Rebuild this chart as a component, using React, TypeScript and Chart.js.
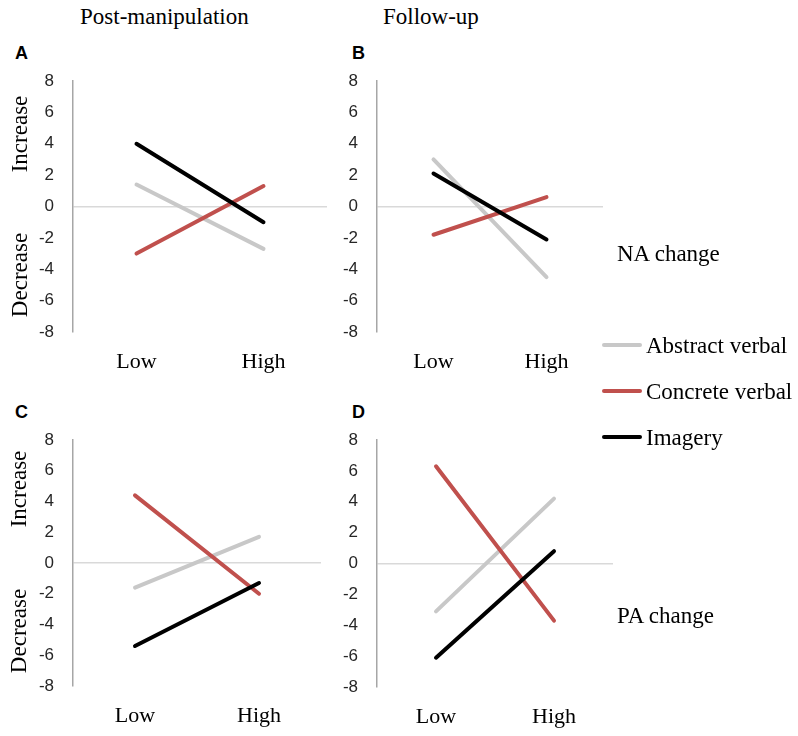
import { useEffect, useRef } from "react";
import { Chart, registerables } from "chart.js";
import type { ChartConfiguration } from "chart.js";

Chart.register(...registerables);

const CATEGORIES = ["Low", "High"];
const SERIES = ["Abstract verbal", "Concrete verbal", "Imagery"];
const Y_MIN = -8;
const Y_MAX = 8;
const Y_STEP = 2;

// A: NA change, post-manipulation
const naPostAbstract = [1.4, -2.7];
const naPostConcrete = [-3.0, 1.3];
const naPostImagery = [4.0, -1.0];
// B: NA change, follow-up
const naFollowAbstract = [3.0, -4.5];
const naFollowConcrete = [-1.8, 0.6];
const naFollowImagery = [2.1, -2.1];
// C: PA change, post-manipulation
const paPostAbstract = [-1.6, 1.7];
const paPostConcrete = [4.4, -2.0];
const paPostImagery = [-5.4, -1.3];
// D: PA change, follow-up
const paFollowAbstract = [-3.1, 4.2];
const paFollowConcrete = [6.3, -3.7];
const paFollowImagery = [-6.1, 0.8];

const COLORS = ["#c8c8c8", "#c0504d", "#000000"];
const SERIF = "'Liberation Serif', 'Times New Roman', serif";
const SANS = "'Liberation Sans', Arial, sans-serif";

type Box = { left: number; areaLeft: number; areaRight: number; areaTop: number; areaBottom: number };

const PAD_TOP = 41;
const X_AXIS_H = 52;
const PAD_BOTTOM = 6;
const PAD_RIGHT = 14;

function Panel({ series, box }: { series: number[][]; box: Box }) {
  const canvasRef = useRef<HTMLCanvasElement | null>(null);

  useEffect(() => {
    const ctx = canvasRef.current!.getContext("2d")!;
    const config: ChartConfiguration<"line", number[], string> = {
      type: "line",
      data: {
        labels: CATEGORIES,
        datasets: series.map((d, i) => ({
          label: SERIES[i],
          data: d,
          borderColor: COLORS[i],
          backgroundColor: COLORS[i],
          borderWidth: 4,
          borderCapStyle: "round",
          pointRadius: 0,
          tension: 0,
          order: 3 - i, // imagery on top
        })),
      },
      options: {
        responsive: true,
        maintainAspectRatio: false,
        animation: false,
        layout: { padding: { top: PAD_TOP, right: PAD_RIGHT, bottom: PAD_BOTTOM, left: 0 } },
        plugins: { legend: { display: false }, tooltip: { enabled: false } },
        scales: {
          x: {
            type: "category",
            offset: true,
            grid: { display: false, drawTicks: false },
            border: { display: false },
            ticks: { color: "#000", font: { family: SERIF, size: 22 }, padding: 17 },
            afterFit: (s) => {
              s.height = X_AXIS_H;
            },
          },
          y: {
            min: Y_MIN,
            max: Y_MAX,
            ticks: { stepSize: Y_STEP, color: "#262626", font: { family: SANS, size: 17 }, padding: 19 },
            grid: {
              drawTicks: false,
              lineWidth: 1.5,
              color: (c) => (c.tick && c.tick.value === 0 ? "#d9d9d9" : "rgba(0,0,0,0)"),
            },
            border: { display: true, color: "#a6a6a6", width: 1.5 },
            afterFit: (s) => {
              s.width = box.areaLeft - box.left;
            },
          },
        },
      },
    };
    const chart = new Chart(ctx, config);
    return () => chart.destroy();
  }, []);

  const w = box.areaRight - box.left + PAD_RIGHT;
  const h = box.areaBottom - box.areaTop + PAD_TOP + X_AXIS_H + PAD_BOTTOM;
  return (
    <div style={{ position: "absolute", left: box.left, top: box.areaTop - PAD_TOP, width: w, height: h }}>
      <canvas ref={canvasRef} />
    </div>
  );
}

const txt = (extra: React.CSSProperties): React.CSSProperties => ({
  position: "absolute",
  fontFamily: SERIF,
  fontSize: 23,
  color: "#000",
  whiteSpace: "nowrap",
  lineHeight: "26px",
  ...extra,
});

const letter = (extra: React.CSSProperties): React.CSSProperties => ({
  position: "absolute",
  fontFamily: SANS,
  fontWeight: "bold",
  fontSize: 18,
  lineHeight: "20px",
  color: "#000",
  ...extra,
});

function Rotated({ text, cx, cy }: { text: string; cx: number; cy: number }) {
  return (
    <div
      style={txt({
        left: cx,
        top: cy,
        transform: "translate(-50%, -50%) rotate(-90deg)",
      })}
    >
      {text}
    </div>
  );
}

export default function App() {
  const legendY = [345, 391, 437];
  return (
    <div style={{ position: "absolute", left: 0, top: 0, width: 798, height: 736, background: "#fff", overflow: "hidden" }}>
      <div style={txt({ left: 80, top: 4 })}>Post-manipulation</div>
      <div style={txt({ left: 383, top: 4 })}>Follow-up</div>

      <div style={letter({ left: 15, top: 43 })}>A</div>
      <div style={letter({ left: 352, top: 43 })}>B</div>
      <div style={letter({ left: 15, top: 402 })}>C</div>
      <div style={letter({ left: 352, top: 402 })}>D</div>

      <Panel
        series={[naPostAbstract, naPostConcrete, naPostImagery]}
        box={{ left: 0, areaLeft: 73, areaRight: 327, areaTop: 81, areaBottom: 332 }}
      />
      <Panel
        series={[naFollowAbstract, naFollowConcrete, naFollowImagery]}
        box={{ left: 335, areaLeft: 377, areaRight: 603, areaTop: 81, areaBottom: 332 }}
      />
      <Panel
        series={[paPostAbstract, paPostConcrete, paPostImagery]}
        box={{ left: 0, areaLeft: 73, areaRight: 321, areaTop: 440, areaBottom: 686 }}
      />
      <Panel
        series={[paFollowAbstract, paFollowConcrete, paFollowImagery]}
        box={{ left: 335, areaLeft: 377, areaRight: 613, areaTop: 440, areaBottom: 687 }}
      />

      <Rotated text="Increase" cx={20} cy={134} />
      <Rotated text="Decrease" cx={20} cy={275} />
      <Rotated text="Increase" cx={19} cy={489} />
      <Rotated text="Decrease" cx={19} cy={631} />

      <div style={txt({ left: 617, top: 241 })}>NA change</div>
      <div style={txt({ left: 617, top: 603 })}>PA change</div>

      {SERIES.map((name, i) => (
        <div key={name}>
          <div
            style={{
              position: "absolute",
              left: 602,
              top: legendY[i] - 2,
              width: 40,
              height: 4,
              borderRadius: 2,
              background: COLORS[i],
            }}
          />
          <div style={txt({ left: 646, top: legendY[i] - 12 })}>{name}</div>
        </div>
      ))}
    </div>
  );
}
